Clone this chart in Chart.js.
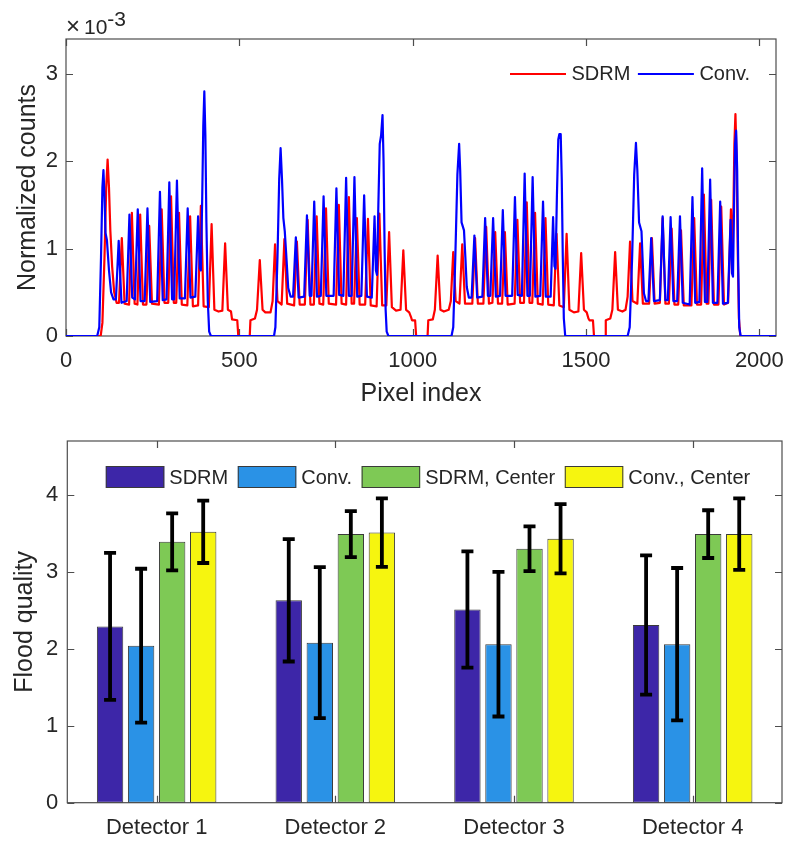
<!DOCTYPE html>
<html>
<head>
<meta charset="utf-8">
<script src="https://cdn.jsdelivr.net/npm/chart.js@4.4.1/dist/chart.umd.min.js"></script>
<style>
  html, body { margin: 0; padding: 0; background: #ffffff; }
  #page { position: relative; width: 788px; height: 844px; overflow: hidden; }
  .panel { position: absolute; left: 0; width: 788px; }
</style>
</head>
<body>
<div id="page">
  <div class="panel" style="top:0;height:420px"><canvas id="profile" width="788" height="420"></canvas></div>
  <div class="panel" style="top:420px;height:424px"><canvas id="quality" width="788" height="424"></canvas></div>
</div>
<script>
// ---------- Flood profile (counts in units of 1e-3) ----------
const pixelTicks = [0, 500, 1000, 1500, 2000];
const countTicks = [0, 1, 2, 3];

// [pixel index, normalized counts x1e-3]
const sdrmProfile = [
  [0,0],[100,0],[105,0.15],[111,0.9],[116,1.7],[120,2.02],[124,1.7],[128,1.2],[133,0.8],[139,0.5],[146,0.38],
  [153,0.38],[161,1.12],[169,0.37],
  [182,0.36],[190,1.41],[198,0.37],
  [206,0.36],[214,1.39],[222,0.36],
  [232,0.36],[240,1.26],[248,0.37],
  [268,0.36],[276,1.45],[284,0.38],
  [295,0.38],[303,1.60],[311,0.38],
  [318,0.38],[326,1.41],[334,0.36],
  [350,0.35],[358,1.37],[366,0.34],
  [381,0.35],[389,1.49],[397,0.34],
  [412,0.33],[420,1.28],[428,0.30],
  [440,0.28],[451,0.29],[459,1.06],[467,0.30],[476,0.28],[479,0.19],[494,0.18],[497,0],
  [530,0],[532,0.18],[545,0.20],[551,0.30],[559,0.87],[567,0.30],[575,0.27],[590,0.27],[596,0.40],[603,1.05],[610,0.40],
  [622,0.36],[630,1.11],[638,0.37],
  [658,0.35],[666,1.08],[674,0.36],
  [689,0.36],[697,1.33],[705,0.36],
  [715,0.36],[723,1.37],[731,0.37],
  [742,0.36],[750,1.46],[758,0.37],
  [779,0.36],[787,1.50],[795,0.37],
  [808,0.36],[816,1.59],[824,0.37],
  [831,0.37],[839,1.35],[847,0.36],
  [863,0.36],[871,1.34],[879,0.35],
  [896,0.34],[904,1.40],[912,0.35],
  [924,0.35],[932,1.19],[940,0.33],
  [952,0.29],[965,0.30],[973,0.98],[981,0.30],[990,0.27],[995,0.22],[998,0.18],[1007,0.18],[1010,0],
  [1043,0],[1045,0.18],[1058,0.19],[1064,0.30],[1072,0.92],[1080,0.30],[1090,0.28],[1104,0.30],[1110,0.40],[1117,0.96],[1124,0.40],
  [1135,0.37],[1143,1.05],[1151,0.37],
  [1172,0.37],[1180,1.12],[1188,0.37],
  [1204,0.37],[1212,1.25],[1220,0.37],
  [1230,0.38],[1238,1.19],[1246,0.37],
  [1258,0.37],[1266,1.19],[1274,0.36],
  [1294,0.37],[1302,1.33],[1310,0.38],
  [1321,0.38],[1329,1.53],[1337,0.38],
  [1345,0.38],[1353,1.41],[1361,0.37],
  [1375,0.36],[1383,1.35],[1391,0.36],
  [1407,0.35],[1415,1.17],[1423,0.35],
  [1436,0.33],[1444,1.17],[1452,0.30],
  [1465,0.27],[1478,0.28],[1486,0.95],[1494,0.30],[1502,0.27],[1507,0.20],[1510,0.18],[1520,0.18],[1523,0],
  [1555,0],[1557,0.18],[1570,0.20],[1576,0.30],[1584,0.96],[1592,0.30],[1605,0.28],[1614,0.30],[1620,0.45],[1627,1.08],[1634,0.40],
  [1648,0.37],[1656,1.06],[1664,0.37],
  [1682,0.37],[1690,1.12],[1698,0.37],
  [1713,0.38],[1721,1.35],[1729,0.37],
  [1739,0.37],[1747,1.23],[1755,0.36],
  [1766,0.36],[1774,1.21],[1782,0.35],
  [1804,0.35],[1812,1.35],[1820,0.36],
  [1832,0.36],[1840,1.62],[1848,0.37],
  [1853,0.37],[1861,1.56],[1869,0.36],
  [1882,0.36],[1890,1.48],[1898,0.36],
  [1910,0.38],[1918,1.45],[1922,0.90],[1925,1.40],[1928,2.20],[1931,2.54],[1934,2.10],[1938,0.90],[1941,0.20],[1945,0],[2048,0]
];

const convProfile = [
  [0,0],[90,0],[96,0.1],[101,0.9],[105,1.7],[108,1.90],[111,1.6],[114,1.18],[118,1.10],[124,0.75],[130,0.50],[137,0.42],
  [144,0.42],[152,1.09],[160,0.38],
  [175,0.40],[183,1.39],[191,0.44],
  [199,0.42],[207,1.45],[215,0.40],
  [227,0.40],[235,1.46],[243,0.39],
  [263,0.40],[271,1.65],[279,0.41],
  [290,0.42],[298,1.76],[306,0.42],
  [312,0.42],[320,1.78],[328,0.43],
  [343,0.43],[351,1.46],[359,0.44],
  [373,0.45],[381,1.37],[386,0.78],[389,0.75],[393,1.6],[396,2.4],[399,2.80],[402,2.3],[405,1.3],[409,0.4],[413,0.05],[418,0],
  [600,0],[604,0.1],[610,0.9],[615,1.8],[619,2.15],[623,1.8],[627,1.35],[631,1.2],[635,0.95],[641,0.55],[648,0.45],
  [655,0.45],[663,1.13],[671,0.44],
  [687,0.45],[695,1.38],[703,0.46],
  [708,0.46],[716,1.54],[724,0.45],
  [735,0.46],[743,1.60],[751,0.46],
  [772,0.46],[780,1.69],[788,0.47],
  [800,0.46],[808,1.81],[816,0.46],
  [824,0.46],[832,1.82],[840,0.45],
  [852,0.46],[860,1.61],[868,0.45],
  [882,0.44],[890,1.37],[894,0.75],[897,0.70],[901,1.5],[905,2.2],[909,2.3],[913,2.53],[916,2.0],[919,1.0],[922,0.3],[925,0.05],[930,0],
  [1112,0],[1117,0.1],[1123,0.9],[1129,1.85],[1134,2.20],[1137,1.9],[1141,1.3],[1148,1.21],[1152,0.9],[1156,0.56],[1162,0.44],
  [1170,0.44],[1178,1.15],[1186,0.44],
  [1201,0.45],[1209,1.35],[1217,0.46],
  [1224,0.46],[1232,1.35],[1240,0.45],
  [1252,0.46],[1260,1.44],[1268,0.46],
  [1287,0.46],[1295,1.59],[1303,0.47],
  [1315,0.46],[1323,1.86],[1331,0.46],
  [1338,0.46],[1346,1.82],[1354,0.45],
  [1368,0.46],[1376,1.54],[1384,0.45],
  [1398,0.45],[1405,1.36],[1409,0.8],[1412,0.77],[1416,1.6],[1420,2.25],[1423,2.31],[1427,2.31],[1430,1.8],[1433,0.9],[1436,0.2],[1440,0],
  [1620,0],[1626,0.1],[1633,0.9],[1639,1.85],[1644,2.21],[1648,1.9],[1653,1.3],[1660,1.2],[1664,0.8],[1667,0.49],[1673,0.40],
  [1680,0.40],[1688,1.12],[1696,0.40],
  [1713,0.41],[1721,1.37],[1729,0.41],
  [1736,0.41],[1744,1.36],[1752,0.40],
  [1763,0.40],[1771,1.37],[1779,0.38],
  [1799,0.36],[1807,1.59],[1815,0.38],
  [1827,0.39],[1835,1.92],[1843,0.39],
  [1850,0.39],[1858,1.79],[1866,0.38],
  [1879,0.38],[1887,1.54],[1895,0.37],
  [1909,0.38],[1917,1.33],[1921,0.72],[1924,0.68],[1927,1.5],[1930,2.2],[1933,2.35],[1936,1.9],[1939,0.8],[1942,0.1],[1946,0],[2048,0]
];

// ---------- Flood quality per detector ----------
const detectors = ['Detector 1', 'Detector 2', 'Detector 3', 'Detector 4'];
const qualityTicks = [0, 1, 2, 3, 4];
const sdrmQuality = [2.29, 2.63, 2.51, 2.31];
const convQuality = [2.04, 2.08, 2.06, 2.06];
const sdrmCenterQuality = [3.39, 3.49, 3.30, 3.49];
const convCenterQuality = [3.52, 3.51, 3.43, 3.49];
const sdrmStd = [0.955, 0.795, 0.755, 0.905];
const convStd = [1.00, 0.98, 0.94, 0.99];
const sdrmCenterStd = [0.37, 0.30, 0.29, 0.31];
const convCenterStd = [0.405, 0.445, 0.45, 0.465];

const FONT = '"Liberation Sans", Arial, Helvetica, sans-serif';
const TEXT = '#262626';
const AXIS = '#4d4d4d';
Chart.defaults.font.family = FONT;
Chart.defaults.color = TEXT;

// Keep the plot box fixed: no extra room reserved for overhanging tick labels
const noOverhang = s => { s.paddingLeft = 0; s.paddingRight = 0; s.paddingTop = 0; s.paddingBottom = 0; };

// Box around the axes with inward tick marks on all four sides
const axesFrame = {
  id: 'axesFrame',
  beforeDatasetsDraw(chart, args, opts) {
    const { ctx, chartArea: a } = chart;
    const xs = chart.scales.x, ys = chart.scales.y;
    ctx.save();
    ctx.strokeStyle = opts.color;
    ctx.lineWidth = opts.width;
    ctx.beginPath();
    xs.ticks.forEach((t, i) => {
      const px = Math.round(xs.getPixelForTick(i)) + 0.5;
      ctx.moveTo(px, a.bottom); ctx.lineTo(px, a.bottom - opts.tick);
      ctx.moveTo(px, a.top); ctx.lineTo(px, a.top + opts.tick);
    });
    ys.ticks.forEach((t, i) => {
      const py = Math.round(ys.getPixelForTick(i)) + 0.5;
      ctx.moveTo(a.left, py); ctx.lineTo(a.left + opts.tick, py);
      ctx.moveTo(a.right, py); ctx.lineTo(a.right - opts.tick, py);
    });
    ctx.stroke();
    ctx.strokeRect(a.left, a.top, a.right - a.left, a.bottom - a.top);
    ctx.restore();
  }
};

// Line legend inside the axes plus the x10^-3 exponent label
const profileLegend = {
  id: 'profileLegend',
  afterDatasetsDraw(chart) {
    const { ctx, chartArea: a } = chart;
    ctx.save();
    ctx.font = '20px ' + FONT;
    ctx.textBaseline = 'middle';
    ctx.fillStyle = TEXT;
    let x = 510;
    const y = a.top + 35;
    chart.data.datasets.forEach(ds => {
      ctx.strokeStyle = ds.borderColor;
      ctx.lineWidth = 2;
      ctx.beginPath();
      ctx.moveTo(x, y); ctx.lineTo(x + 56, y);
      ctx.stroke();
      ctx.fillText(ds.label, x + 61.5, y);
      x += 61.5 + ctx.measureText(ds.label).width + 7.5;
    });
    // exponent label
    ctx.textBaseline = 'alphabetic';
    ctx.font = '24px ' + FONT;
    ctx.fillText('\u00d7', a.left, 34);
    ctx.font = '21px ' + FONT;
    ctx.fillText('10', a.left + 18, 34);
    const w = ctx.measureText('10').width;
    ctx.fillText('-3', a.left + 18 + w, 26);
    ctx.restore();
  }
};

new Chart(document.getElementById('profile'), {
  type: 'line',
  data: {
    datasets: [
      {
        label: 'SDRM',
        data: sdrmProfile.map(([x, y]) => ({ x, y })),
        borderColor: '#ff0000',
        borderWidth: 2.2,
        pointRadius: 0,
        tension: 0,
        borderJoinStyle: 'round',
        order: 1
      },
      {
        label: 'Conv.',
        data: convProfile.map(([x, y]) => ({ x, y })),
        borderColor: '#0000ff',
        borderWidth: 2.2,
        pointRadius: 0,
        tension: 0,
        borderJoinStyle: 'round',
        order: 0
      }
    ]
  },
  options: {
    responsive: false,
    animation: false,
    events: [],
    layout: { padding: { top: 39, right: 12, left: 0, bottom: 0 } },
    plugins: {
      legend: { display: false },
      tooltip: { enabled: false },
      axesFrame: { color: AXIS, width: 1.2, tick: 7 }
    },
    scales: {
      x: {
        type: 'linear',
        min: 0,
        max: 2048,
        afterBuildTicks: s => { s.ticks = pixelTicks.map(v => ({ value: v })); },
        afterFit: s => { s.height = 84; noOverhang(s); },
        grid: { display: false, drawTicks: false },
        border: { display: false },
        ticks: { font: { size: 22 }, color: TEXT, padding: 12, maxRotation: 0, callback: v => String(v) },
        title: { display: true, text: 'Pixel index', font: { size: 25 }, color: TEXT, padding: { top: 0, bottom: 11 } }
      },
      y: {
        type: 'linear',
        min: 0,
        max: 3.4,
        afterBuildTicks: s => { s.ticks = countTicks.map(v => ({ value: v })); },
        afterFit: s => { s.width = 66; noOverhang(s); },
        grid: { display: false, drawTicks: false },
        border: { display: false },
        ticks: { font: { size: 22 }, color: TEXT, padding: 8, callback: v => String(v) },
        title: { display: true, text: 'Normalized counts', font: { size: 25 }, color: TEXT, padding: { top: 13, bottom: 0 } }
      }
    }
  },
  plugins: [axesFrame, profileLegend]
});

// Error bars (mean +/- std) on top of each bar
const errorBars = {
  id: 'errorBars',
  afterDatasetsDraw(chart) {
    const { ctx } = chart;
    const ys = chart.scales.y;
    ctx.save();
    ctx.strokeStyle = '#000000';
    ctx.lineWidth = 3.8;
    ctx.lineCap = 'butt';
    chart.data.datasets.forEach((ds, i) => {
      const meta = chart.getDatasetMeta(i);
      meta.data.forEach((bar, j) => {
        const v = ds.data[j], e = ds.errors[j];
        const yt = ys.getPixelForValue(v + e);
        const yb = ys.getPixelForValue(v - e);
        ctx.beginPath();
        ctx.moveTo(bar.x, yt); ctx.lineTo(bar.x, yb);
        ctx.moveTo(bar.x - 6, yt); ctx.lineTo(bar.x + 6, yt);
        ctx.moveTo(bar.x - 6, yb); ctx.lineTo(bar.x + 6, yb);
        ctx.stroke();
      });
    });
    ctx.restore();
  }
};

// Patch legend inside the axes
const qualityLegend = {
  id: 'qualityLegend',
  afterDraw(chart) {
    const { ctx, chartArea: a } = chart;
    ctx.save();
    ctx.font = '20px ' + FONT;
    ctx.textBaseline = 'middle';
    let x = a.left + 38.5;
    const top = a.top + 25;
    const bw = 58.5, bh = 22;
    chart.data.datasets.forEach(ds => {
      ctx.fillStyle = ds.backgroundColor;
      ctx.fillRect(x, top, bw, bh);
      ctx.strokeStyle = '#3a3a3a';
      ctx.lineWidth = 1;
      ctx.strokeRect(x + 0.5, top + 0.5, bw - 1, bh - 1);
      ctx.fillStyle = TEXT;
      ctx.fillText(ds.label, x + bw + 5, top + bh / 2 + 1);
      x += bw + 5 + ctx.measureText(ds.label).width + 9.6;
    });
    ctx.restore();
  }
};

const barStyle = { borderColor: '#3a3a3a', borderWidth: 1, borderSkipped: false, categoryPercentage: 0.695, barPercentage: 0.85 };

new Chart(document.getElementById('quality'), {
  type: 'bar',
  data: {
    labels: detectors,
    datasets: [
      Object.assign({ label: 'SDRM', data: sdrmQuality, errors: sdrmStd, backgroundColor: '#3d26a8' }, barStyle),
      Object.assign({ label: 'Conv.', data: convQuality, errors: convStd, backgroundColor: '#2a92e6' }, barStyle),
      Object.assign({ label: 'SDRM, Center', data: sdrmCenterQuality, errors: sdrmCenterStd, backgroundColor: '#7ec955' }, barStyle),
      Object.assign({ label: 'Conv., Center', data: convCenterQuality, errors: convCenterStd, backgroundColor: '#f6f50f' }, barStyle)
    ]
  },
  options: {
    responsive: false,
    animation: false,
    events: [],
    layout: { padding: { top: 21, right: 6, left: 0, bottom: 0 } },
    plugins: {
      legend: { display: false },
      tooltip: { enabled: false },
      axesFrame: { color: AXIS, width: 1.2, tick: 7 }
    },
    scales: {
      x: {
        type: 'category',
        afterFit: s => { s.height = 41.3; noOverhang(s); },
        grid: { display: false, drawTicks: false },
        border: { display: false },
        ticks: { font: { size: 22 }, color: TEXT, padding: 12, maxRotation: 0 }
      },
      y: {
        type: 'linear',
        min: 0,
        max: 4.7,
        afterBuildTicks: s => { s.ticks = qualityTicks.map(v => ({ value: v })); },
        afterFit: s => { s.width = 67.3; noOverhang(s); },
        grid: { display: false, drawTicks: false },
        border: { display: false },
        ticks: { font: { size: 22 }, color: TEXT, padding: 9, callback: v => String(v) },
        title: { display: true, text: 'Flood quality', font: { size: 25 }, color: TEXT, padding: { top: 10, bottom: 0 } }
      }
    }
  },
  plugins: [axesFrame, errorBars, qualityLegend]
});
</script>
</body>
</html>
